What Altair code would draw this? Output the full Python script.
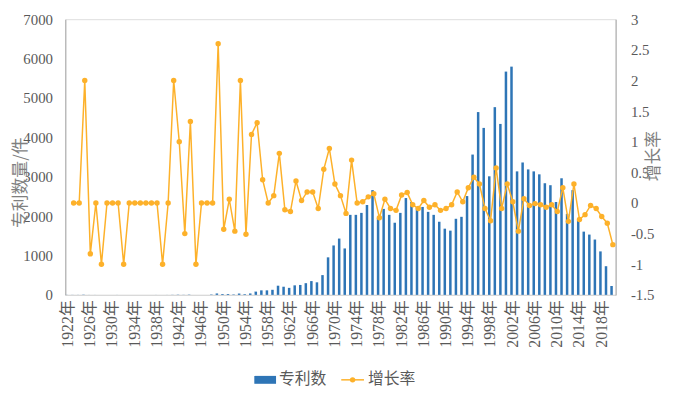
import altair as alt
import pandas as pd

years = list(range(1922, 2021))
labels = [f"{y}年" for y in years]

patents = [
    2, 2, 2, 6, 1, 1, 0, 0, 0, 1,            # 1922-1931
    0, 0, 0, 0, 0, 0, 1, 0, 1, 3,            # 1932-1941
    6, 3, 7, 0, 0, 0, 10, 36, 20, 21,        # 1942-1951
    11, 34, 17, 36, 83, 115, 115, 129, 233, 207,  # 1952-1961
    178, 242, 252, 297, 350, 319, 502, 953, 1255, 1430,  # 1962-1971
    1179, 2032, 2032, 2082, 2283, 2660, 1950, 2183, 2032, 1832,  # 1972-1981
    2082, 2459, 2358, 2220, 2233, 2108, 2032, 1857, 1681, 1631,  # 1982-1991
    1932, 1982, 2509, 3563, 4642, 4240, 3011, 4767, 4341, 5670,  # 1992-2001
    5796, 3136, 3362, 3186, 3136, 3061, 2835, 2785, 2358, 2961,  # 2002-2011
    2057, 2660, 1907, 1606, 1531, 1405, 1104, 728, 226,          # 2012-2020
]

growth = [
    None, 0, 0, 2, -0.83, 0, -1, 0, 0, 0,          # 1922-1931
    -1, 0, 0, 0, 0, 0, 0, -1, 0, 2,                # 1932-1941
    1, -0.5, 1.33, -1, 0, 0, 0, 2.6, -0.43, 0.06,  # 1942-1951
    -0.46, 2.0, -0.51, 1.12, 1.31, 0.38, 0, 0.12, 0.81, -0.11,  # 1952-1961
    -0.14, 0.36, 0.04, 0.18, 0.18, -0.09, 0.55, 0.89, 0.31, 0.12,  # 1962-1971
    -0.17, 0.70, 0.0, 0.02, 0.10, 0.15, -0.24, 0.06, -0.09, -0.12,  # 1972-1981
    0.13, 0.17, -0.03, -0.09, 0.04, -0.07, -0.03, -0.12, -0.09, -0.03,  # 1982-1991
    0.18, 0.02, 0.25, 0.42, 0.31, -0.09, -0.29, 0.57, -0.09, 0.31,  # 1992-2001
    0.02, -0.46, 0.07, -0.04, -0.01, -0.03, -0.07, -0.03, -0.14, 0.25,  # 2002-2011
    -0.30, 0.31, -0.27, -0.19, -0.04, -0.09, -0.22, -0.33, -0.68,  # 2012-2020
]

tick_labels = [f"{y}年" for y in range(1922, 2021, 4)]
left_ticks = [0, 1000, 2000, 3000, 4000, 5000, 6000, 7000]
right_ticks = [-1.5, -1, -0.5, 0, 0.5, 1, 1.5, 2, 2.5, 3]

legend_names = ["专利数", "增长率"]

assert len(patents) == len(years) and len(growth) == len(years)

df = pd.DataFrame({"label": labels, "patents": patents, "growth": growth})

BLUE = "#2E75B6"
ORANGE = "#FDB12A"
LABEL_COLOR = "#595959"
TITLE_COLOR = "#7F7F7F"
NUM_FONT = "Liberation Serif, Noto Sans CJK SC"
CJK_FONT = "Noto Sans CJK SC"

x_enc = alt.X(
    "label:N",
    sort=None,
    scale=alt.Scale(paddingInner=0.55, paddingOuter=0.275),
    axis=alt.Axis(
        title=None,
        values=tick_labels,
        labelAngle=270,
        labelFont=NUM_FONT,
        labelFontSize=16,
        labelColor=LABEL_COLOR,
        labelPadding=5,
        ticks=False,
        domainColor="#D9D9D9",
        domainWidth=1.5,
        grid=False,
    ),
)

bars = alt.Chart(df).mark_bar(color=BLUE, xOffset=-1.3).encode(
    x=x_enc,
    y=alt.Y(
        "patents:Q",
        scale=alt.Scale(domain=[0, 7000], nice=False),
        axis=alt.Axis(
            orient="left",
            values=left_ticks,
            labelExpr="'' + datum.value",
            title="专利数量/件",
            titleFont=CJK_FONT,
            titleFontSize=17,
            titleFontWeight="normal",
            titleColor=TITLE_COLOR,
            titleAngle=270,
            titleX=-45,
            titleY=165,
            titleAlign="center",
            titleBaseline="middle",
            labelFont=NUM_FONT,
            labelFontSize=15,
            labelColor=LABEL_COLOR,
            labelPadding=13,
            ticks=False,
            grid=False,
            domainColor="#A6A6A6",
        ),
    ),
)

line = alt.Chart(df).mark_line(
    color=ORANGE,
    strokeWidth=1.5,
    point=alt.OverlayMarkDef(filled=True, size=30, color=ORANGE, opacity=1),
).encode(
    x=x_enc,
    y=alt.Y(
        "growth:Q",
        scale=alt.Scale(domain=[-1.5, 3], nice=False, zero=False),
        axis=alt.Axis(
            orient="right",
            values=right_ticks,
            labelExpr="'' + datum.value",
            title="增长率",
            titleFont=CJK_FONT,
            titleFontSize=17,
            titleFontWeight="normal",
            titleColor=TITLE_COLOR,
            titleAngle=270,
            titleX=38,
            titleY=138,
            titleAlign="center",
            titleBaseline="middle",
            labelFont=NUM_FONT,
            labelFontSize=15,
            labelColor=LABEL_COLOR,
            labelPadding=15,
            ticks=False,
            grid=False,
            domainColor="#A6A6A6",
        ),
    ),
)

# manual legend (plot origin at page x=65.7, y=17)
OX, OY = 65.7, 17
leg_df = pd.DataFrame({"k": [0]})
leg_rect = alt.Chart(leg_df).mark_rect(color=BLUE).encode(
    x=alt.value(257 - OX), x2=alt.value(279 - OX),
    y=alt.value(378 - OY), y2=alt.value(386 - OY),
)
leg_rule = alt.Chart(leg_df).mark_rule(color=ORANGE, strokeWidth=1.5).encode(
    x=alt.value(345 - OX), x2=alt.value(368 - OX), y=alt.value(382 - OY),
)
leg_dot = alt.Chart(leg_df).mark_point(filled=True, size=30, color=ORANGE, opacity=1).encode(
    x=alt.value(356.5 - OX), y=alt.value(382 - OY),
)
leg_t1 = alt.Chart(leg_df).mark_text(
    align="left", baseline="middle", font=CJK_FONT, fontSize=16, color=LABEL_COLOR
).encode(x=alt.value(282 - OX), y=alt.value(381 - OY), text=alt.value(legend_names[0]))
leg_t2 = alt.Chart(leg_df).mark_text(
    align="left", baseline="middle", font=CJK_FONT, fontSize=16, color=LABEL_COLOR
).encode(x=alt.value(372 - OX), y=alt.value(381 - OY), text=alt.value(legend_names[1]))

chart = (
    alt.layer(bars, line, leg_rect, leg_rule, leg_dot, leg_t1, leg_t2)
    .resolve_scale(y="independent")
    .properties(
        width=557,
        height=279,
        autosize=alt.AutoSizeParams(type="none"),
        padding={"left": 58, "top": 9, "right": 52, "bottom": 100},
    )
    .configure_view(stroke=None)
    .configure(background="white")
)

chart.save("out.html", embed_options={"renderer": "svg", "actions": False})
